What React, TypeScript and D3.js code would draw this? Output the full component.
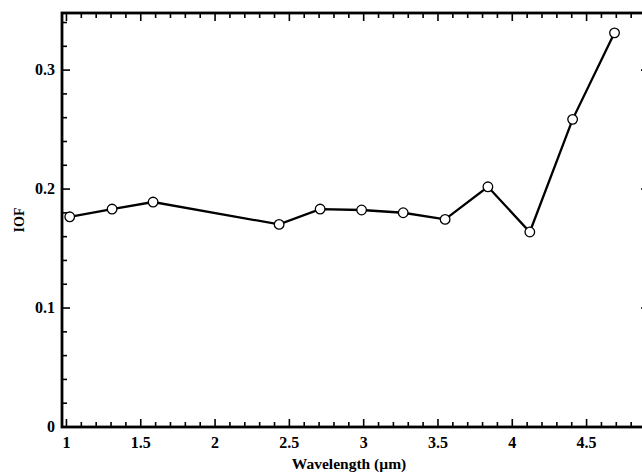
import React, { useRef, useEffect } from 'react';
import * as d3 from 'd3';

// wavelength (µm) and reflectance (I/F)
const wavelengths = [1.022, 1.307, 1.583, 2.431, 2.707, 2.986, 3.266, 3.548, 3.836, 4.118, 4.406, 4.688];
const iofValues = [0.1767, 0.1832, 0.1891, 0.1703, 0.1832, 0.1824, 0.1801, 0.1745, 0.2019, 0.1639, 0.2586, 0.3313];

const xTickValues = [1, 1.5, 2, 2.5, 3, 3.5, 4, 4.5];
const xTickLabels = ['1', '1.5', '2', '2.5', '3', '3.5', '4', '4.5'];
const yTickValues = [0, 0.1, 0.2, 0.3];
const yTickLabels = ['0', '0.1', '0.2', '0.3'];

const App = () => {
  const ref = useRef<HTMLDivElement>(null);

  useEffect(() => {
    const width = 642;
    const height = 474;
    const margin = { top: 13, left: 62 };
    const plotRight = 649;
    const plotBottom = 427;
    const font = '"Liberation Serif", "Times New Roman", serif';

    const x = d3.scaleLinear().domain([0.97, 4.92]).range([margin.left, plotRight]);
    const y = d3.scaleLinear().domain([0, 0.348]).range([plotBottom, margin.top]);

    const root = d3.select(ref.current);
    root.selectAll('*').remove();
    const svg = root
      .append('svg')
      .attr('width', width)
      .attr('height', height)
      .style('position', 'absolute')
      .style('left', 0)
      .style('top', 0)
      .style('background', '#fff');

    // minor/major ticks, all pointing inward
    const xMinor = d3.range(10, 50).map(v => v / 10);
    const yMinor = d3.range(0, 18).map(v => v / 50);
    const isMajorX = (v: number) => Math.abs(v * 2 - Math.round(v * 2)) < 1e-6;
    const isMajorY = (v: number) => Math.abs(v * 10 - Math.round(v * 10)) < 1e-6;

    const ticks = svg.append('g').attr('stroke', '#000').attr('stroke-width', 1.6);
    xMinor.forEach(v => {
      const len = isMajorX(v) ? 8 : 5;
      ticks.append('line').attr('x1', x(v)).attr('x2', x(v)).attr('y1', plotBottom).attr('y2', plotBottom - len);
      ticks.append('line').attr('x1', x(v)).attr('x2', x(v)).attr('y1', margin.top).attr('y2', margin.top + len);
    });
    yMinor.forEach(v => {
      const len = isMajorY(v) ? 8 : 5;
      ticks.append('line').attr('x1', margin.left).attr('x2', margin.left + len).attr('y1', y(v)).attr('y2', y(v));
      ticks.append('line').attr('x1', plotRight).attr('x2', plotRight - len).attr('y1', y(v)).attr('y2', y(v));
    });

    // frame
    svg.append('rect')
      .attr('x', margin.left)
      .attr('y', margin.top)
      .attr('width', plotRight - margin.left)
      .attr('height', plotBottom - margin.top)
      .attr('fill', 'none')
      .attr('stroke', '#000')
      .attr('stroke-width', 2.8);

    // tick labels
    svg.append('g')
      .selectAll('text')
      .data(xTickValues)
      .join('text')
      .attr('x', d => x(d))
      .attr('y', 448)
      .attr('text-anchor', 'middle')
      .attr('font-family', font)
      .attr('font-weight', 'bold')
      .attr('font-size', 16)
      .text((d, i) => xTickLabels[i]);

    svg.append('g')
      .selectAll('text')
      .data(yTickValues)
      .join('text')
      .attr('x', 55)
      .attr('y', d => y(d) + 5)
      .attr('text-anchor', 'end')
      .attr('font-family', font)
      .attr('font-weight', 'bold')
      .attr('font-size', 16)
      .text((d, i) => yTickLabels[i]);

    // axis titles
    svg.append('text')
      .attr('x', 349)
      .attr('y', 469)
      .attr('text-anchor', 'middle')
      .attr('font-family', font)
      .attr('font-weight', 'bold')
      .attr('font-size', 15.5)
      .text('Wavelength (µm)');

    svg.append('text')
      .attr('transform', `translate(24, ${(margin.top + plotBottom) / 2}) rotate(-90)`)
      .attr('text-anchor', 'middle')
      .attr('font-family', font)
      .attr('font-weight', 'bold')
      .attr('font-size', 14)
      .text('IOF');

    // data line + markers
    const pts = wavelengths.map((w, i) => [w, iofValues[i]] as [number, number]);
    svg.append('path')
      .datum(pts)
      .attr('d', d3.line<[number, number]>().x(d => x(d[0])).y(d => y(d[1])))
      .attr('fill', 'none')
      .attr('stroke', '#000')
      .attr('stroke-width', 2.3);

    svg.append('g')
      .selectAll('circle')
      .data(pts)
      .join('circle')
      .attr('cx', d => x(d[0]))
      .attr('cy', d => y(d[1]))
      .attr('r', 4.8)
      .attr('fill', '#fff')
      .attr('stroke', '#000')
      .attr('stroke-width', 1.3);
  }, []);

  return <div ref={ref} />;
};

export default App;
